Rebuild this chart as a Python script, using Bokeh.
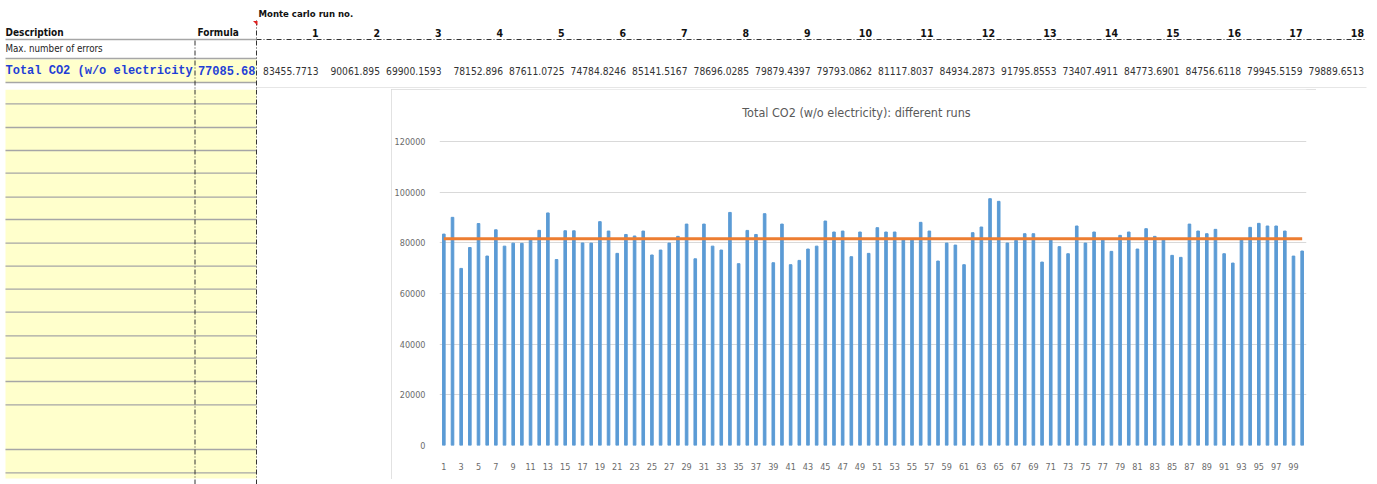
from bokeh.plotting import figure
from bokeh.layouts import row, column, Spacer
from bokeh.models import Range1d, FixedTicker, BasicTickFormatter
from bokeh.core.properties import value
from bokeh.embed import file_html
from bokeh.resources import INLINE
import numpy as np

# ---- data -------------------------------------------------------------
runs = list(range(1, 101))
total_co2 = [
    83455.7713, 90061.895, 69900.1593, 78152.896, 87611.0725, 74784.8246,
    85141.5167, 78696.0285, 79879.4397, 79793.0862, 81117.8037, 84934.2873,
    91795.8553, 73407.4911, 84773.6901, 84756.6118, 79945.5159, 79889.6513,
    88360, 84650, 75840, 83300, 82700, 84650, 75200, 77150, 79900, 82550,
    87400, 73700, 87400, 78700, 77150, 92000, 71770, 84900, 83300, 91500,
    72150, 87400, 71370, 73075, 77550, 78700, 88600, 84270, 84650, 74530,
    84270, 75840, 85980, 84270, 84270, 81200, 81200, 88090, 84650, 72800,
    79900, 79120, 71370, 84000, 86240, 97430, 96380, 79920, 80975, 83600,
    83600, 72400, 81100, 78500, 75700, 86640, 79900, 84270, 81200, 76630,
    82950, 84270, 77550, 85590, 82550, 81200, 75050, 74260, 87400, 84650,
    83600, 85320, 75700, 72010, 81200, 86110, 87690, 86640, 86640, 84650,
    74770, 76760,
]
formula_value = 77085.68
shown_runs = 18
y_ticks = [0, 20000, 40000, 60000, 80000, 100000, 120000]
x_ticks = runs[::2]

row_description = "Total CO2 (w/o electricity"
chart_title = "Total CO2 (w/o electricity): different runs"

NARROW = "'Liberation Sans Narrow', 'DejaVu Sans Condensed', 'Liberation Sans'"
MONO = "'Liberation Mono', 'DejaVu Sans Mono'"
YELLOW = "#ffffcc"
RULE = "#a6a6a6"
DASHDOT = "5 2 1 2"
BLUE = "#1f3fd6"


def fmt_general(v):
    return f"{v:.4f}".rstrip("0").rstrip(".")


def sheet(width, height, x0, y0):
    p = figure(width=width, height=height,
               x_range=Range1d(x0, x0 + width), y_range=Range1d(y0 + height, y0),
               x_axis_type=None, y_axis_type=None, min_border=0,
               outline_line_color=None, toolbar_location=None,
               output_backend="svg")
    p.background_fill_color = "white"
    p.border_fill_color = "white"
    return p


col_right = [318 + i * 61.5 for i in range(shown_runs)]

# ---- header band of the sheet ------------------------------------------
top = sheet(1377, 89, 0, 0)
top.quad(left=5, right=256, top=59, bottom=82, fill_color=YELLOW, line_color=None)
top.segment(x0=[5, 5, 5], y0=[39, 58, 82], x1=[256, 256, 256], y1=[39, 58, 82],
            line_color=RULE, line_width=1.3)
top.segment(x0=[256], y0=[39], x1=[1366], y1=[39], line_color="#333333",
            line_width=1, line_dash=DASHDOT)
top.segment(x0=[256], y0=[87], x1=[1366], y1=[87], line_color="#e6e6e6", line_width=1)
top.segment(x0=[194.5, 256], y0=[40, 20], x1=[194.5, 256], y1=[89, 89],
            line_color="#333333", line_width=1, line_dash=DASHDOT)
top.patch([252.5, 257, 257], [20.5, 20.5, 25], fill_color="#e02020", line_color=None)

top.text(x=[258], y=[13], text=["Monte carlo run no."], text_font=value(NARROW),
         text_font_size="9.5px", text_font_style="bold", text_baseline="middle",
         text_color="#111111")
top.text(x=[5, 197], y=[32, 32], text=["Description", "Formula"],
         text_font=value(NARROW), text_font_size="10px", text_font_style="bold",
         text_baseline="middle", text_color="#111111")
top.text(x=col_right, y=[32] * shown_runs, text=[str(r) for r in runs[:shown_runs]],
         text_font=value(NARROW), text_font_size="10.5px", text_font_style="bold",
         text_align="right", text_baseline="middle", text_color="#111111")
top.text(x=[5], y=[48], text=["Max. number of errors"], text_font=value(NARROW),
         text_font_size="9.7px", text_baseline="middle", text_color="#222222")
top.text(x=[5], y=[70], text=[row_description], text_font=value(MONO),
         text_font_size="12px", text_font_style="bold", text_baseline="middle",
         text_color=BLUE)
top.text(x=[255], y=[70], text=[f"{formula_value:.2f}"], text_font=value(MONO),
         text_font_size="12px", text_font_style="bold", text_baseline="middle",
         text_align="right", text_color=BLUE)
top.text(x=col_right, y=[70] * shown_runs,
         text=[fmt_general(v) for v in total_co2[:shown_runs]],
         text_font=value(NARROW), text_font_size="10.2px", text_align="right",
         text_baseline="middle", text_color="#333333")

# ---- empty yellow input rows on the left --------------------------------
left = sheet(391, 395, 0, 89)
left.quad(left=5, right=256, top=89, bottom=478, fill_color=YELLOW, line_color=None)
row_lines = [103.3, 127, 150, 172.7, 196.7, 219, 242.7, 265.7, 288.7, 311.7,
             335.3, 357.7, 381, 404.3, 449, 472.3]
left.segment(x0=[5] * len(row_lines), y0=row_lines, x1=[256] * len(row_lines),
             y1=row_lines, line_color=RULE, line_width=1.3)
left.segment(x0=[194.5, 256], y0=[89, 89], x1=[194.5, 256], y1=[484, 484],
             line_color="#333333", line_width=1, line_dash=DASHDOT)

# ---- embedded bar chart -------------------------------------------------
# The plot frame runs to the top of the chart box; the value axis keeps its
# 0..120000 scale over the lower 304 px and the title sits in the headroom.
axis_px = 304
frame_px = 356
y_top = y_ticks[-1] * frame_px / axis_px
title_y = y_ticks[-1] * (axis_px + 29) / axis_px
title_x = (runs[0] + runs[-1]) / 2 - 1.9

chart = figure(width=925, height=390, x_range=Range1d(0.5, 100.5),
               y_range=Range1d(y_ticks[0], y_top),
               min_border_left=42, min_border_right=10, min_border_top=0,
               min_border_bottom=34, outline_line_color=None,
               toolbar_location=None, output_backend="svg")
chart.styles = {"outline": "1px solid #d9d9d9", "outline-offset": "-1px"}

chart.text(x=[title_x], y=[title_y], text=[chart_title], text_font=value(NARROW),
           text_font_size="12.5px", text_color="#595959", text_align="center",
           text_baseline="middle")

chart.vbar(x=runs, top=total_co2, width=0.3, color="#5b9bd5")
mean_value = float(np.mean(total_co2))
chart.line(x=[runs[0], runs[-1]], y=[mean_value, mean_value],
           line_color="#ed7d31", line_width=3)

chart.xgrid.visible = False
chart.ygrid.grid_line_color = "#d9d9d9"
chart.ygrid.ticker = FixedTicker(ticks=y_ticks)
chart.yaxis.ticker = FixedTicker(ticks=y_ticks)
chart.yaxis.formatter = BasicTickFormatter(use_scientific=False)
chart.xaxis.ticker = FixedTicker(ticks=x_ticks)
for ax in (chart.xaxis, chart.yaxis):
    ax.axis_line_color = None
    ax.major_tick_line_color = None
    ax.minor_tick_line_color = None
    ax.major_label_text_font = NARROW
    ax.major_label_text_font_size = "9px"
    ax.major_label_text_color = "#6b6b6b"
chart.yaxis.major_label_standoff = 8
chart.xaxis.major_label_standoff = 11

layout = column(
    top,
    row(left, column(chart, Spacer(width=925, height=5)), Spacer(width=61, height=395)),
)

open("out.html", "w").write(file_html(layout, INLINE))
